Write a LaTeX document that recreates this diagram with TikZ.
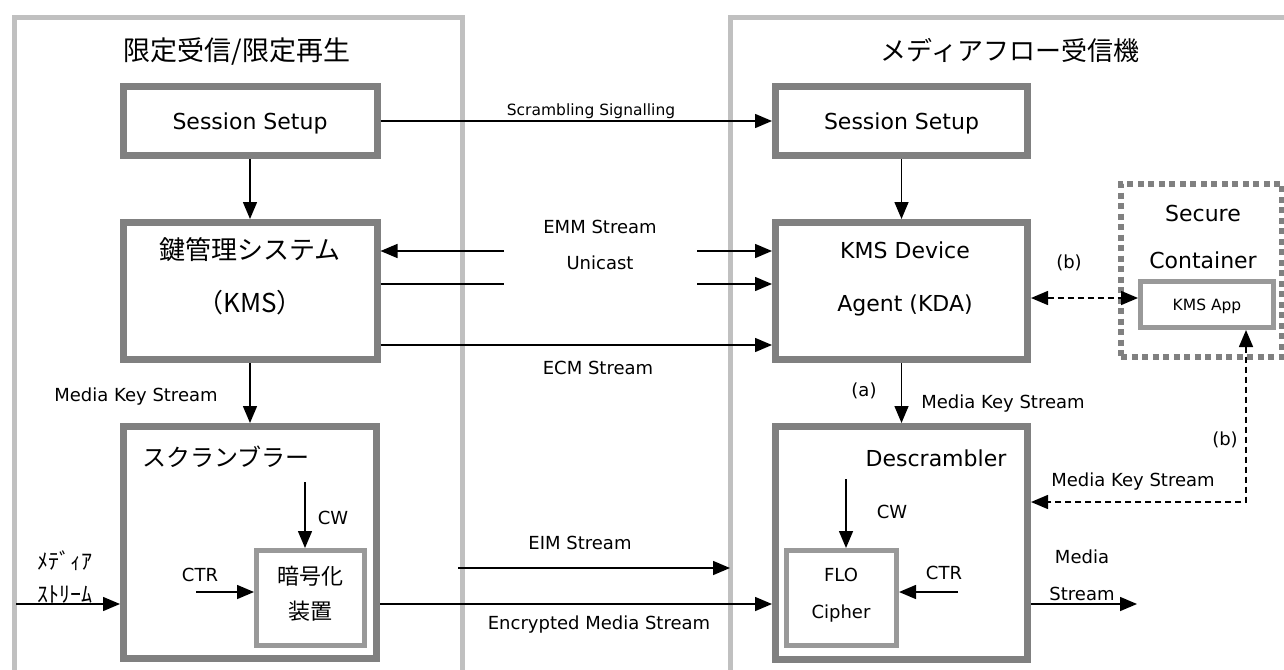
\documentclass[tikz,border=0pt]{standalone}
\usepackage{fontspec}
\setmainfont{DejaVu Sans}
\newfontfamily\jp{Noto Sans CJK JP}
\usetikzlibrary{arrows.meta}
\definecolor{boxgray}{HTML}{808080}
\definecolor{ingray}{HTML}{999999}
\definecolor{panelgray}{HTML}{C0C0C0}
\newcommand{\fsz}[1]{\fontsize{#1}{#1}\selectfont}
\tikzset{
  >={Triangle[length=17pt,width=14pt]},
  box/.style={draw=boxgray, line width=7pt, fill=white, inner sep=0pt},
  inbox/.style={draw=ingray, line width=5pt, fill=white, inner sep=0pt},
  panel/.style={draw=panelgray, line width=5pt},
  arr/.style={->, line width=1.5pt},
  darr/.style={<->, line width=1.5pt, dash pattern=on 6pt off 4pt},
  sm/.style={font=\fsz{15.5}, text height=11pt, text depth=0pt, inner sep=0pt},
  lbl/.style={font=\fsz{18}, text height=13pt, text depth=0pt, inner sep=0pt},
  big/.style={font=\fsz{22}, text height=16pt, text depth=0pt, inner sep=0pt},
  jbig/.style={font=\jp\fsz{27}, text height=21.5pt, text depth=2.5pt, inner sep=0pt},
  jmid/.style={font=\jp\fsz{22}, text height=17.5pt, text depth=2pt, inner sep=0pt},
}
\begin{document}
\begin{tikzpicture}[x=1pt,y=-1pt]
\useasboundingbox (0,0) rectangle (1284,669);
\clip (0,0) rectangle (1284,669);
% the two sides
\draw[panel] (14,700) |- (462,17.5) -- (462,700);
\draw[panel] (730,700) |- (1300,17.5);
\node[jbig] (titleL) at (237,51) {限定受信/限定再生};
\node[jbig, font=\jp\fsz{26}] (titleR) at (1010,51) {メディアフロー受信機};

% head end
\node[box, big, minimum width=254pt, minimum height=69pt] (ssL) at (250,121) {Session Setup};
\node[box, minimum width=254pt, minimum height=137pt] (kms) at (250,291) {};
\node[jbig, font=\jp\fsz{26}] (kmsA) at (250,250) {鍵管理システム};
\node[jbig, font=\jp\fsz{26}] (kmsB) at (250,303) {（KMS）};
\node[box, minimum width=253pt, minimum height=232pt] (scr) at (250,542.5) {};
\node[jbig, font=\jp\fsz{24}] (scrT) at (226,457) {スクランブラー};
\node[inbox, minimum width=108pt, minimum height=95pt] (enc) at (310.5,598) {};
\node[jmid] (encA) at (310,577) {暗号化};
\node[jmid] (encB) at (310,612) {装置};
\node[lbl] (cwL) at (333,518) {CW};
\node[lbl] (ctrL) at (200,575) {CTR};
\coordinate (cwLs) at (305,482);
\coordinate (ctrLs) at (196,592);
\node[jmid] (medA) at (65,562) {ﾒﾃﾞｨｱ};
\node[jmid] (medB) at (65,595) {ｽﾄﾘｰﾑ};
\coordinate (medIn) at (16,604);
\node[lbl] (mksL) at (136,395) {Media Key Stream};

% receiver
\node[box, big, minimum width=252pt, minimum height=69pt] (ssR) at (901.5,121) {Session Setup};
\node[box, minimum width=252pt, minimum height=137pt] (kda) at (901.5,291) {};
\node[big] (kdaA) at (905,250) {KMS Device};
\node[big] (kdaB) at (905,303) {Agent (KDA)};
\node[box, minimum width=252pt, minimum height=233pt] (des) at (901.5,543) {};
\node[big] (desT) at (936,458) {Descrambler};
\node[inbox, minimum width=110pt, minimum height=95pt] (flo) at (841.5,598) {};
\node[lbl] (floA) at (841,575) {FLO};
\node[lbl] (floB) at (841,612) {Cipher};
\node[lbl] (cwR) at (892,512) {CW};
\node[lbl] (ctrR) at (944,573) {CTR};
\coordinate (cwRs) at (846,479);
\coordinate (ctrRs) at (958,592);
\node[lbl] (mdA) at (1082,557) {Media};
\node[lbl] (mdB) at (1082,594) {Stream};
\coordinate (msOut) at (1137,604);
\node[lbl] (aLbl) at (864,390) {(a)};
\node[lbl] (mksR) at (1003,402) {Media Key Stream};

% secure container
\node[draw=boxgray, line width=6pt, dash pattern=on 6pt off 4.5pt, inner sep=0pt,
  minimum width=161pt, minimum height=173pt] (sec) at (1201.5,270) {};
\node[big] (secA) at (1203,213) {Secure};
\node[big] (secB) at (1203,260) {Container};
\node[inbox, sm, minimum width=133pt, minimum height=46pt] (app) at (1207,304.5) {KMS App};
\node[lbl] (bLblA) at (1069,262) {(b)};
\node[lbl] (bLblB) at (1225,439) {(b)};
\node[lbl] (mksS) at (1133,480) {Media Key Stream};

% streams between both sides
\node[sm] (sigLbl) at (591,110) {Scrambling Signalling};
\node[lbl] (emmLbl) at (600,227) {EMM Stream};
\node[lbl] (uniLbl) at (600,263) {Unicast};
\node[lbl] (ecmLbl) at (598,368) {ECM Stream};
\node[lbl] (eimLbl) at (580,543) {EIM Stream};
\node[lbl] (encLbl) at (599,623) {Encrypted Media Stream};
\coordinate (emmL) at (504,251);
\coordinate (uniL) at (504,284);
\coordinate (emmR) at (697,251);
\coordinate (uniR) at (697,284);
\coordinate (eimS) at (458,568);
\coordinate (eimE) at (730,568);

\draw[arr] (ssL) -- (ssR);
\draw[arr] (ssL) -- (kms);
\draw[arr] (emmL) -- (emmL -| kms.east);
\draw[line width=1.5pt] (uniL -| kms.east) -- (uniL);
\draw[arr] (emmR) -- (emmR -| kda.west);
\draw[arr] (uniR) -- (uniR -| kda.west);
\draw[arr] ([yshift=-54pt]kms.east) -- ([yshift=-54pt]kda.west);
\draw[arr] (kms) -- (scr);
\draw[arr] (medIn) -- (medIn -| scr.west);
\draw[arr] (ctrLs) -- (ctrLs -| enc.west);
\draw[arr] (cwLs) -- (cwLs |- enc.north);
\draw[arr] ([yshift=-61.5pt]scr.east) -- ([yshift=-61.5pt]scr.east -| des.west);
\draw[arr] (eimS) -- (eimE);
\draw[arr] (ssR) -- (kda);
\draw[arr] (kda) -- (des);
\draw[arr] (cwRs) -- (cwRs |- flo.north);
\draw[arr] (ctrRs) -- (ctrRs -| flo.east);
\draw[arr] (msOut -| des.east) -- (msOut);
\draw[darr] ([yshift=-7pt]kda.east) -- ([yshift=-7pt]kda.east -| app.west);
\draw[darr] ([xshift=39pt]app.south) |- ([yshift=41pt]des.east);
\end{tikzpicture}
\end{document}
